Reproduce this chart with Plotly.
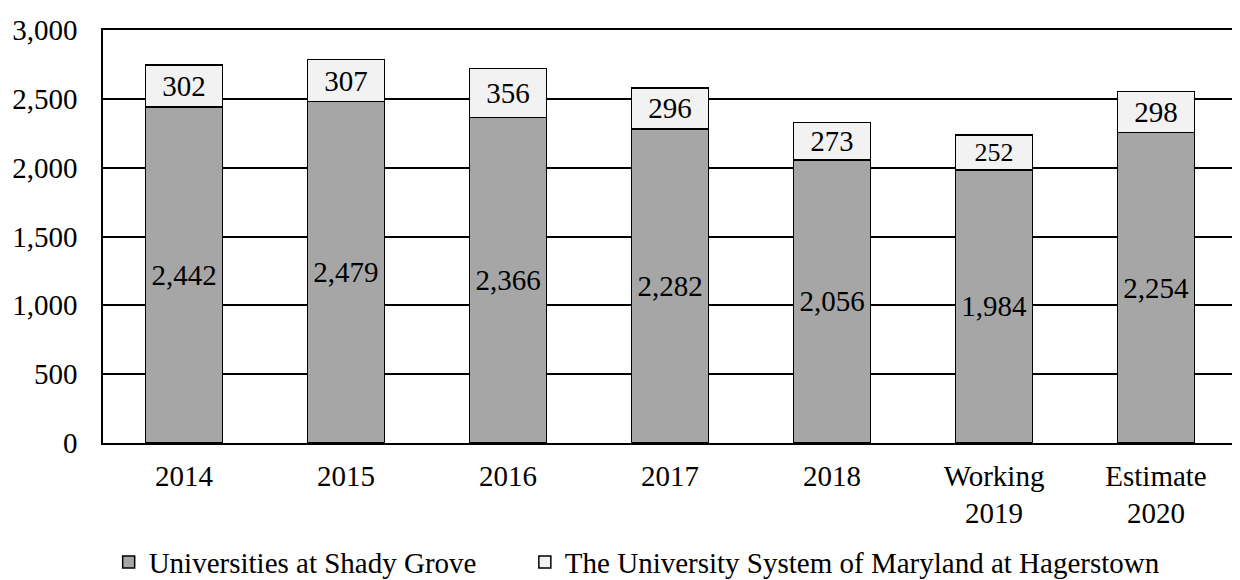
import plotly.graph_objects as go

categories = ["2014", "2015", "2016", "2017", "2018", "Working<br>2019", "Estimate<br>2020"]
shady_grove = [2442, 2479, 2366, 2282, 2056, 1984, 2254]
hagerstown = [302, 307, 356, 296, 273, 252, 298]
tick_vals = [0, 500, 1000, 1500, 2000, 2500, 3000]
tick_text = ["0", "500", "1,000", "1,500", "2,000", "2,500", "3,000"]

FONT = "Liberation Serif, Times New Roman, serif"

fig = go.Figure()
fig.add_trace(go.Bar(
    x=categories, y=shady_grove, name="Universities at Shady Grove",
    marker=dict(color="#a6a6a6", line=dict(color="black", width=1.5)),
    text=[f"{v:,}" for v in shady_grove], textposition="inside",
    insidetextanchor="middle", textangle=0,
    textfont=dict(family=FONT, size=29, color="black"),
    legend="legend",
))
fig.add_trace(go.Bar(
    x=categories, y=hagerstown, name="The University System of Maryland at Hagerstown",
    marker=dict(color="#f2f2f2", line=dict(color="black", width=1.5)),
    text=[f"{v:,}" for v in hagerstown], textposition="inside",
    insidetextanchor="middle", textangle=0,
    textfont=dict(family=FONT, size=29, color="black"),
    legend="legend2",
))

legend_common = dict(orientation="h", yanchor="top", xanchor="left", y=-0.227,
                     font=dict(family=FONT, size=29), itemwidth=30,
                     bgcolor="rgba(0,0,0,0)")

fig.update_layout(
    barmode="stack", bargap=0.525,
    width=1240, height=580,
    margin=dict(l=95, r=11, t=22, b=145, autoexpand=False),
    paper_bgcolor="white", plot_bgcolor="white",
    font=dict(family=FONT, size=29, color="black"),
    uniformtext=dict(mode=False),
    legend=dict(x=0.005, **legend_common),
    legend2=dict(x=0.372, **legend_common),
    showlegend=True,
)
fig.update_xaxes(showline=True, linecolor="black", linewidth=1.5, mirror=True,
                 ticks="", tickfont=dict(family=FONT, size=29), automargin=False,
                 ticklabelstandoff=6)
fig.update_yaxes(range=[0, 3000], tickvals=tick_vals, ticktext=tick_text,
                 showgrid=True, gridcolor="black", gridwidth=1.5,
                 showline=True, linecolor="black", linewidth=1.5, mirror=True,
                 ticks="", ticklabelstandoff=18, tickfont=dict(family=FONT, size=29),
                 zeroline=False, automargin=False)

fig.write_html("out.html")
